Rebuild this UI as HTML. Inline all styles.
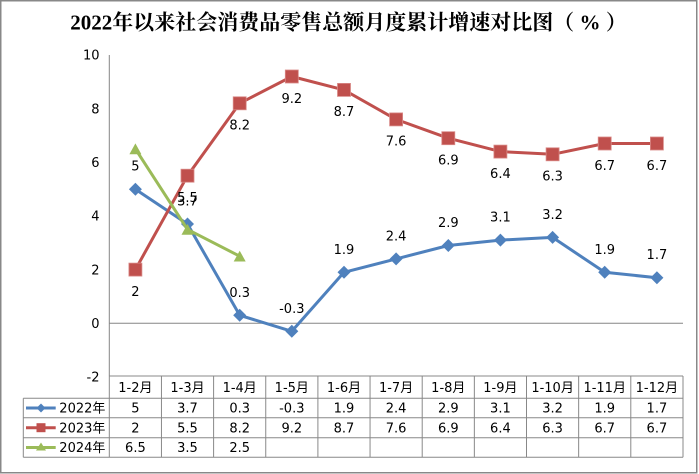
<!DOCTYPE html>
<html>
<head>
<meta charset="utf-8">
<style>
html,body{margin:0;padding:0;background:#fff;}
svg{display:block;}
.t{font-family:"DejaVu Sans","Liberation Sans","Noto Sans CJK SC",sans-serif;font-size:13px;fill:#000;}
.title{font-family:"Liberation Serif","Noto Serif CJK SC",serif;font-size:21px;font-weight:bold;fill:#000;}
</style>
</head>
<body>
<svg width="699" height="474" viewBox="0 0 699 474" xmlns="http://www.w3.org/2000/svg">
  <rect x="0" y="0" width="699" height="474" fill="#fff"/>
  <rect x="0.75" y="0.75" width="696" height="472" fill="none" stroke="#888" stroke-width="1.5"/>

  <text class="title" x="348.5" y="29.5" text-anchor="middle">2022年以来社会消费品零售总额月度累计增速对比图（ % ）</text>

  <!-- y axis -->
  <line x1="109.3" y1="55" x2="109.3" y2="376" stroke="#868686" stroke-width="1"/>
  <line x1="109.3" y1="323.3" x2="683" y2="323.3" stroke="#868686" stroke-width="1"/>
  <g class="t" text-anchor="end">
    <text x="99.5" y="59.7">10</text>
    <text x="99.5" y="113.4">8</text>
    <text x="99.5" y="167">6</text>
    <text x="99.5" y="220.7">4</text>
    <text x="99.5" y="274.3">2</text>
    <text x="99.5" y="328">0</text>
    <text x="99.5" y="381.7">-2</text>
  </g>

  <!-- series 2022 -->
  <polyline fill="none" stroke="#4F81BD" stroke-width="3" stroke-linejoin="round"
    points="135.4,189.2 187.5,224.0 239.7,315.3 291.8,331.3 344.0,272.3 396.1,258.9 448.3,245.5 500.4,240.1 552.6,237.4 604.7,272.3 656.9,277.7"/>
  <g fill="#4F81BD">
    <polygon points="135.4,182.7 141.9,189.2 135.4,195.7 128.9,189.2"/>
    <polygon points="187.5,217.5 194,224 187.5,230.5 181,224"/>
    <polygon points="239.7,308.8 246.2,315.3 239.7,321.8 233.2,315.3"/>
    <polygon points="291.8,324.8 298.3,331.3 291.8,337.8 285.3,331.3"/>
    <polygon points="344,265.8 350.5,272.3 344,278.8 337.5,272.3"/>
    <polygon points="396.1,252.4 402.6,258.9 396.1,265.4 389.6,258.9"/>
    <polygon points="448.3,239 454.8,245.5 448.3,252 441.8,245.5"/>
    <polygon points="500.4,233.6 506.9,240.1 500.4,246.6 493.9,240.1"/>
    <polygon points="552.6,230.9 559.1,237.4 552.6,243.9 546.1,237.4"/>
    <polygon points="604.7,265.8 611.2,272.3 604.7,278.8 598.2,272.3"/>
    <polygon points="656.9,271.2 663.4,277.7 656.9,284.2 650.4,277.7"/>
  </g>

  <!-- series 2023 -->
  <polyline fill="none" stroke="#C0504D" stroke-width="3" stroke-linejoin="round"
    points="135.4,269.6 187.5,175.7 239.7,103.3 291.8,76.5 344.0,89.9 396.1,119.4 448.3,138.2 500.4,151.6 552.6,154.3 604.7,143.5 656.9,143.5"/>
  <g fill="#C0504D" stroke="#d98a88" stroke-width="0.8">
    <rect x="128.9" y="263.1" width="13" height="13"/>
    <rect x="181" y="169.2" width="13" height="13"/>
    <rect x="233.2" y="96.8" width="13" height="13"/>
    <rect x="285.3" y="70" width="13" height="13"/>
    <rect x="337.5" y="83.4" width="13" height="13"/>
    <rect x="389.6" y="112.9" width="13" height="13"/>
    <rect x="441.8" y="131.7" width="13" height="13"/>
    <rect x="493.9" y="145.1" width="13" height="13"/>
    <rect x="546.1" y="147.8" width="13" height="13"/>
    <rect x="598.2" y="137" width="13" height="13"/>
    <rect x="650.4" y="137" width="13" height="13"/>
  </g>

  <!-- series 2024 -->
  <polyline fill="none" stroke="#9BBB59" stroke-width="3" stroke-linejoin="round"
    points="135.4,148.9 187.5,229.4 239.7,256.2"/>
  <g fill="#9BBB59">
    <polygon points="135.4,143.4 141.4,154.2 129.4,154.2"/>
    <polygon points="187.5,223.9 193.5,234.7 181.5,234.7"/>
    <polygon points="239.7,250.7 245.7,261.5 233.7,261.5"/>
  </g>

  <!-- data labels 2022 -->
  <g class="t" text-anchor="middle">
    <text x="135.4" y="170.5">5</text>
    <text x="187.5" y="205.5">3.7</text>
    <text x="239.7" y="296.8">0.3</text>
    <text x="291.8" y="312.8">-0.3</text>
    <text x="344" y="253.8">1.9</text>
    <text x="396.1" y="240.4">2.4</text>
    <text x="448.3" y="227">2.9</text>
    <text x="500.4" y="221.6">3.1</text>
    <text x="552.6" y="218.9">3.2</text>
    <text x="604.7" y="253.8">1.9</text>
    <text x="656.9" y="259.2">1.7</text>
  </g>
  <!-- data labels 2023 -->
  <g class="t" text-anchor="middle">
    <text x="135.4" y="296">2</text>
    <text x="187.5" y="202">5.5</text>
    <text x="239.7" y="129.6">8.2</text>
    <text x="291.8" y="102.8">9.2</text>
    <text x="344" y="116.2">8.7</text>
    <text x="396.1" y="145.7">7.6</text>
    <text x="448.3" y="164.5">6.9</text>
    <text x="500.4" y="177.9">6.4</text>
    <text x="552.6" y="180.6">6.3</text>
    <text x="604.7" y="169.8">6.7</text>
    <text x="656.9" y="169.8">6.7</text>
  </g>

  <!-- data table -->
  <g stroke="#888" stroke-width="1" fill="none">
    <line x1="109.3" y1="376" x2="683" y2="376"/>
    <line x1="23.3" y1="398.3" x2="683" y2="398.3"/>
    <line x1="23.3" y1="417.7" x2="683" y2="417.7"/>
    <line x1="23.3" y1="437.7" x2="683" y2="437.7"/>
    <line x1="23.3" y1="457.3" x2="683" y2="457.3"/>
    <line x1="23.3" y1="398.3" x2="23.3" y2="457.3"/>
    <line x1="109.3" y1="376" x2="109.3" y2="457.3"/>
    <line x1="161.45" y1="376" x2="161.45" y2="457.3"/>
    <line x1="213.6" y1="376" x2="213.6" y2="457.3"/>
    <line x1="265.75" y1="376" x2="265.75" y2="457.3"/>
    <line x1="317.9" y1="376" x2="317.9" y2="457.3"/>
    <line x1="370.05" y1="376" x2="370.05" y2="457.3"/>
    <line x1="422.2" y1="376" x2="422.2" y2="457.3"/>
    <line x1="474.35" y1="376" x2="474.35" y2="457.3"/>
    <line x1="526.5" y1="376" x2="526.5" y2="457.3"/>
    <line x1="578.65" y1="376" x2="578.65" y2="457.3"/>
    <line x1="630.8" y1="376" x2="630.8" y2="457.3"/>
    <line x1="683" y1="376" x2="683" y2="457.3"/>
  </g>

  <g class="t" text-anchor="middle">
    <text x="135.4" y="392">1-2月</text>
    <text x="187.5" y="392">1-3月</text>
    <text x="239.7" y="392">1-4月</text>
    <text x="291.8" y="392">1-5月</text>
    <text x="344" y="392">1-6月</text>
    <text x="396.1" y="392">1-7月</text>
    <text x="448.3" y="392">1-8月</text>
    <text x="500.4" y="392">1-9月</text>
    <text x="552.6" y="392">1-10月</text>
    <text x="604.7" y="392">1-11月</text>
    <text x="656.9" y="392">1-12月</text>

    <text x="135.4" y="412.7">5</text>
    <text x="187.5" y="412.7">3.7</text>
    <text x="239.7" y="412.7">0.3</text>
    <text x="291.8" y="412.7">-0.3</text>
    <text x="344" y="412.7">1.9</text>
    <text x="396.1" y="412.7">2.4</text>
    <text x="448.3" y="412.7">2.9</text>
    <text x="500.4" y="412.7">3.1</text>
    <text x="552.6" y="412.7">3.2</text>
    <text x="604.7" y="412.7">1.9</text>
    <text x="656.9" y="412.7">1.7</text>

    <text x="135.4" y="432.4">2</text>
    <text x="187.5" y="432.4">5.5</text>
    <text x="239.7" y="432.4">8.2</text>
    <text x="291.8" y="432.4">9.2</text>
    <text x="344" y="432.4">8.7</text>
    <text x="396.1" y="432.4">7.6</text>
    <text x="448.3" y="432.4">6.9</text>
    <text x="500.4" y="432.4">6.4</text>
    <text x="552.6" y="432.4">6.3</text>
    <text x="604.7" y="432.4">6.7</text>
    <text x="656.9" y="432.4">6.7</text>

    <text x="135.4" y="452.2">6.5</text>
    <text x="187.5" y="452.2">3.5</text>
    <text x="239.7" y="452.2">2.5</text>
  </g>

  <!-- legend keys -->
  <line x1="26" y1="408" x2="55.7" y2="408" stroke="#4F81BD" stroke-width="3"/>
  <polygon points="41,403.5 45.5,408 41,412.5 36.5,408" fill="#4F81BD"/>
  <line x1="26" y1="427.7" x2="55.7" y2="427.7" stroke="#C0504D" stroke-width="3"/>
  <rect x="36.5" y="423.2" width="9" height="9" fill="#C0504D"/>
  <line x1="26" y1="447.5" x2="55.7" y2="447.5" stroke="#9BBB59" stroke-width="3"/>
  <polygon points="41,442.5 46,450.5 36,450.5" fill="#9BBB59"/>

  <g class="t">
    <text x="59.3" y="412.7">2022年</text>
    <text x="59.3" y="432.4">2023年</text>
    <text x="59.3" y="452.2">2024年</text>
  </g>
</svg>
</body>
</html>
